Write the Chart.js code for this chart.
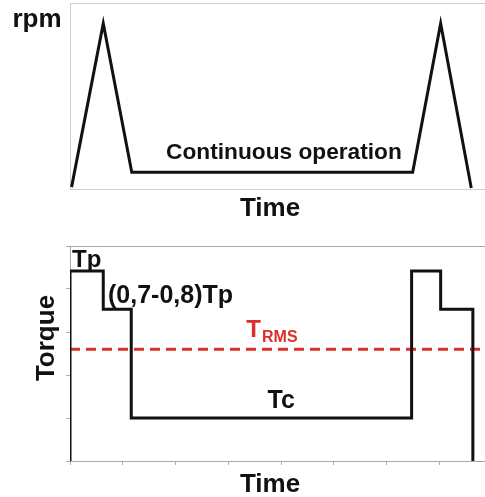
<!DOCTYPE html>
<html>
<head>
<meta charset="utf-8">
<script src="https://cdn.jsdelivr.net/npm/chart.js@4"></script>
<style>
  body { margin: 0; background: #fff; }
  #top { position: absolute; left: 0; top: 0; }
  #bottom { position: absolute; left: 0; top: 230px; }
</style>
</head>
<body>
<canvas id="top" width="485" height="230"></canvas>
<canvas id="bottom" width="485" height="267"></canvas>
<script>
// speed profile (top)
const rpmTime = [0.03, 0.63, 1.17, 6.49, 7.02, 7.6];
const rpm = [0.1, 8.9, 0.9, 0.9, 8.9, 0.05];

// torque profile (bottom), each value holds until the next time
const torqueTime = [0, 0, 0.63, 1.16, 6.47, 7.02, 7.63];
const torque = [0, 4.42, 3.53, 1.0, 4.42, 3.53, 0];
const tRms = 2.6;

const xMax = 7.86;
const FONT = '"Liberation Sans", Arial, sans-serif';

// draws texts (data coords or canvas px) and the top frame line
const textPlugin = {
  id: 'texts',
  afterDraw(chart, args, opts) {
    const ctx = chart.ctx;
    const {x, y} = chart.scales;
    ctx.save();
    if (opts.frameColor) {
      const a = chart.chartArea;
      ctx.strokeStyle = opts.frameColor;
      ctx.lineWidth = 1;
      ctx.beginPath();
      ctx.moveTo(a.left, a.top + 0.5);
      ctx.lineTo(a.right, a.top + 0.5);
      ctx.stroke();
    }
    (opts.items || []).forEach(t => {
      const px = t.data ? x.getPixelForValue(t.x) : t.x;
      const py = t.data ? y.getPixelForValue(t.y) : t.y;
      ctx.save();
      ctx.translate(px, py);
      if (t.rotate) ctx.rotate(t.rotate);
      ctx.font = 'bold ' + t.size + 'px ' + FONT;
      ctx.fillStyle = t.color || '#111';
      ctx.textAlign = t.align || 'left';
      ctx.textBaseline = 'alphabetic';
      ctx.fillText(t.text, 0, 0);
      if (t.sub) {
        const w = ctx.measureText(t.text).width;
        ctx.font = 'bold ' + t.subSize + 'px ' + FONT;
        ctx.fillText(t.sub, w + 1, 5);
      }
      ctx.restore();
    });
    ctx.restore();
  }
};

new Chart(document.getElementById('top'), {
  type: 'line',
  data: {
    datasets: [{
      data: rpmTime.map((t, i) => ({x: t, y: rpm[i]})),
      borderColor: '#111',
      borderWidth: 3,
      pointRadius: 0,
      tension: 0,
      fill: false
    }]
  },
  options: {
    responsive: false,
    animation: false,
    layout: {padding: {top: 3, left: 0, right: 0, bottom: 0}},
    plugins: {
      legend: {display: false},
      tooltip: {enabled: false},
      texts: {
        frameColor: '#cfcfcf',
        items: [
          {text: 'rpm', x: 37, y: 27, size: 26, align: 'center'},
          {text: 'Continuous operation', x: 1.82, y: 1.6, data: true, size: 22.7},
          {text: 'Time', x: 270, y: 216, size: 26, align: 'center'}
        ]
      }
    },
    scales: {
      x: {
        type: 'linear', min: 0, max: xMax,
        ticks: {display: false},
        grid: {display: false},
        border: {color: '#cfcfcf'},
        afterFit: s => { s.height = 41; }
      },
      y: {
        min: 0, max: 10,
        ticks: {display: false},
        grid: {display: false},
        border: {color: '#cfcfcf'},
        afterFit: s => { s.width = 70; }
      }
    }
  },
  plugins: [textPlugin]
});

new Chart(document.getElementById('bottom'), {
  type: 'line',
  data: {
    datasets: [{
      data: torqueTime.map((t, i) => ({x: t, y: torque[i]})),
      borderColor: '#111',
      borderWidth: 3,
      pointRadius: 0,
      stepped: 'before',
      fill: false
    }, {
      data: [{x: 0, y: tRms}, {x: xMax, y: tRms}],
      borderColor: '#dc2f2b',
      borderWidth: 3,
      borderDash: [10, 6],
      pointRadius: 0,
      fill: false
    }]
  },
  options: {
    responsive: false,
    animation: false,
    layout: {padding: {top: 16, left: 0, right: 0, bottom: 0}},
    plugins: {
      legend: {display: false},
      tooltip: {enabled: false},
      texts: {
        frameColor: '#a8a8a8',
        items: [
          {text: 'Tp', x: 0.04, y: 4.52, data: true, size: 24},
          {text: '(0,7-0,8)Tp', x: 0.72, y: 3.67, data: true, size: 25},
          {text: 'T', sub: 'RMS', subSize: 16, x: 3.34, y: 2.88, data: true, size: 24, color: '#dc2f2b'},
          {text: 'Tc', x: 3.74, y: 1.23, data: true, size: 25},
          {text: 'Torque', x: 54, y: 108, size: 26, align: 'center', rotate: -Math.PI / 2},
          {text: 'Time', x: 270, y: 262, size: 26, align: 'center'}
        ]
      }
    },
    scales: {
      x: {
        type: 'linear', min: 0, max: xMax,
        ticks: {display: false, stepSize: 1},
        grid: {drawOnChartArea: false, tickLength: 4, color: '#b0b0b0'},
        border: {color: '#a8a8a8'},
        afterFit: s => { s.height = 36; }
      },
      y: {
        min: 0, max: 5,
        ticks: {display: false, stepSize: 1},
        grid: {drawOnChartArea: false, tickLength: 4, color: '#b0b0b0'},
        border: {color: '#a8a8a8'},
        afterFit: s => { s.width = 70; }
      }
    }
  },
  plugins: [textPlugin]
});
</script>
</body>
</html>
